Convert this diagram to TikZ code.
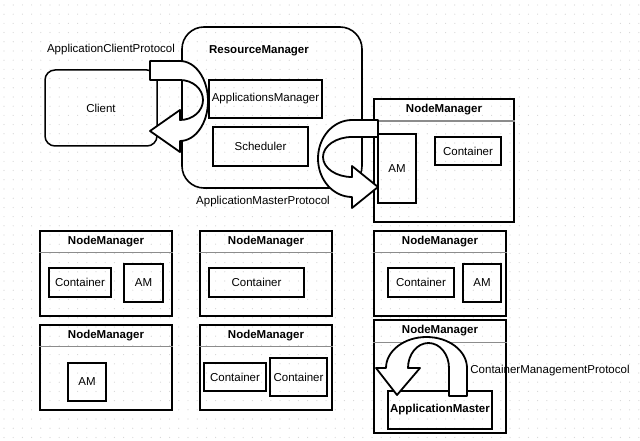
\documentclass[tikz,border=0pt]{standalone}
\usepackage{fontspec}
\setmainfont{Liberation Sans}
\usetikzlibrary{positioning}

\tikzset{
  mgr/.style={draw, line width=1.8pt, minimum width=132pt, minimum height=85pt, inner sep=0pt},
  part/.style={draw, line width=1.5pt, inner sep=0pt, font=\fontsize{11.5}{13}\selectfont},
  hdr/.style={font=\bfseries\fontsize{11.5}{13}\selectfont, inner sep=0pt},
  proto/.style={font=\fontsize{11.5}{13}\selectfont, inner sep=0pt},
  sepline/.style={draw=black!45, line width=1.2pt},
  uarrow/.style={draw, fill=white, line width=1.8pt, line join=round},
}

\begin{document}
\begin{tikzpicture}[x=1pt,y=-1pt]
\useasboundingbox (0,0) rectangle (640,441);
\fill[white] (0,0) rectangle (640,441);
% dotted page grid
\foreach \i in {0,...,69}
  \foreach \j in {0,...,47}
    \fill[black!16] (4+\i*9.2,5+\j*9.2) circle (0.6);

% client and resource manager
\node[part, rounded corners=10pt, minimum width=112pt, minimum height=76pt] (client) at (101,108) {Client};
\node[draw, line width=1.6pt, rounded corners=22pt, minimum width=180pt, minimum height=161pt] (rm) at (272,107.5) {};
\node[hdr] (rmtitle) at (259,51) {ResourceManager};
\node[part, minimum width=113pt, minimum height=38pt] (appsmgr) at (265.5,99) {ApplicationsManager};
\node[part, minimum width=95pt, minimum height=39pt] (sched) at (260.5,146.5) {Scheduler};

% node manager with the AM
\node[mgr, minimum width=140pt, minimum height=123pt] (nm0) at (444,160.5) {};
\draw[sepline] ([yshift=-23pt]nm0.north west) -- ([yshift=-23pt]nm0.north east);
\node[hdr] (nm0t) at (444,110) {NodeManager};
\node[part, minimum width=38pt, minimum height=69pt] (am0) at (397,168.5) {AM};
\node[part, minimum width=66pt, minimum height=28pt] (ct0) at (468,151) {Container};

% the other node managers
\foreach \n/\x/\y in {nm1/106/273.5, nm2/266/273.5, nm3/106/367.5, nm4/266/367.5, nm5/440/273.5} {
  \node[mgr] (\n) at (\x,\y) {};
  \draw[sepline] ([yshift=-22pt]\n.north west) -- ([yshift=-22pt]\n.north east);
  \node[hdr] (\n t) at (\x,\y-31.5) {NodeManager};
}
\node[part, minimum width=62pt, minimum height=29pt] (ct1) at (80,282.5) {Container};
\node[part, minimum width=39pt, minimum height=38pt] (am1) at (143.5,283) {AM};
\node[part, minimum width=95pt, minimum height=29pt] (ct2) at (256.5,282.5) {Container};
\node[part, minimum width=38pt, minimum height=38pt] (am3) at (87,382) {AM};
\node[part, minimum width=62pt, minimum height=28pt] (ct4a) at (235,377) {Container};
\node[part, minimum width=57pt, minimum height=38pt] (ct4b) at (298.5,377) {Container};
\node[part, minimum width=66pt, minimum height=29pt] (ct5) at (421,282.5) {Container};
\node[part, minimum width=38pt, minimum height=38pt] (am5) at (482,283) {AM};

% node manager running the ApplicationMaster
\node[mgr, minimum height=113pt] (nm6) at (440,376.5) {};
\draw[sepline] ([yshift=-23pt]nm6.north west) -- ([yshift=-23pt]nm6.north east);
\node[hdr] (nm6t) at (440,331) {NodeManager};

% u-turn arrows
\draw[uarrow] (150,61) -- (180,61)
  arc[start angle=-90, end angle=90, x radius=28, y radius=40]
  -- (180,152) -- (150,131) -- (180,110) -- (180,120)
  arc[start angle=90, end angle=-90, x radius=23, y radius=20]
  -- (150,80) -- cycle;
\draw[uarrow] (378,120) -- (352,120)
  arc[start angle=-90, end angle=-270, x radius=34, y radius=38.5]
  -- (352,208) -- (378,187) -- (352,166) -- (352,177)
  arc[start angle=90, end angle=270, x radius=29, y radius=20]
  -- (378,137) -- cycle;
\node[part, line width=1.6pt, minimum width=104pt, minimum height=38pt, font=\bfseries\fontsize{11.5}{13}\selectfont] (appmaster) at (440,410) {ApplicationMaster};
\draw[uarrow] (467,396) -- (467,368)
  arc[start angle=0, end angle=-180, x radius=40.5, y radius=31]
  -- (376,368) -- (397,395) -- (420,368) -- (408,368)
  arc[start angle=180, end angle=360, x radius=20.5, y radius=25]
  -- (449,396) -- cycle;

% protocol labels
\node[proto] (acp) at (111,50) {ApplicationClientProtocol};
\node[proto] (amp) at (263,202) {ApplicationMasterProtocol};
\node[proto] (cmp) at (550,371) {ContainerManagementProtocol};
\end{tikzpicture}
\end{document}
